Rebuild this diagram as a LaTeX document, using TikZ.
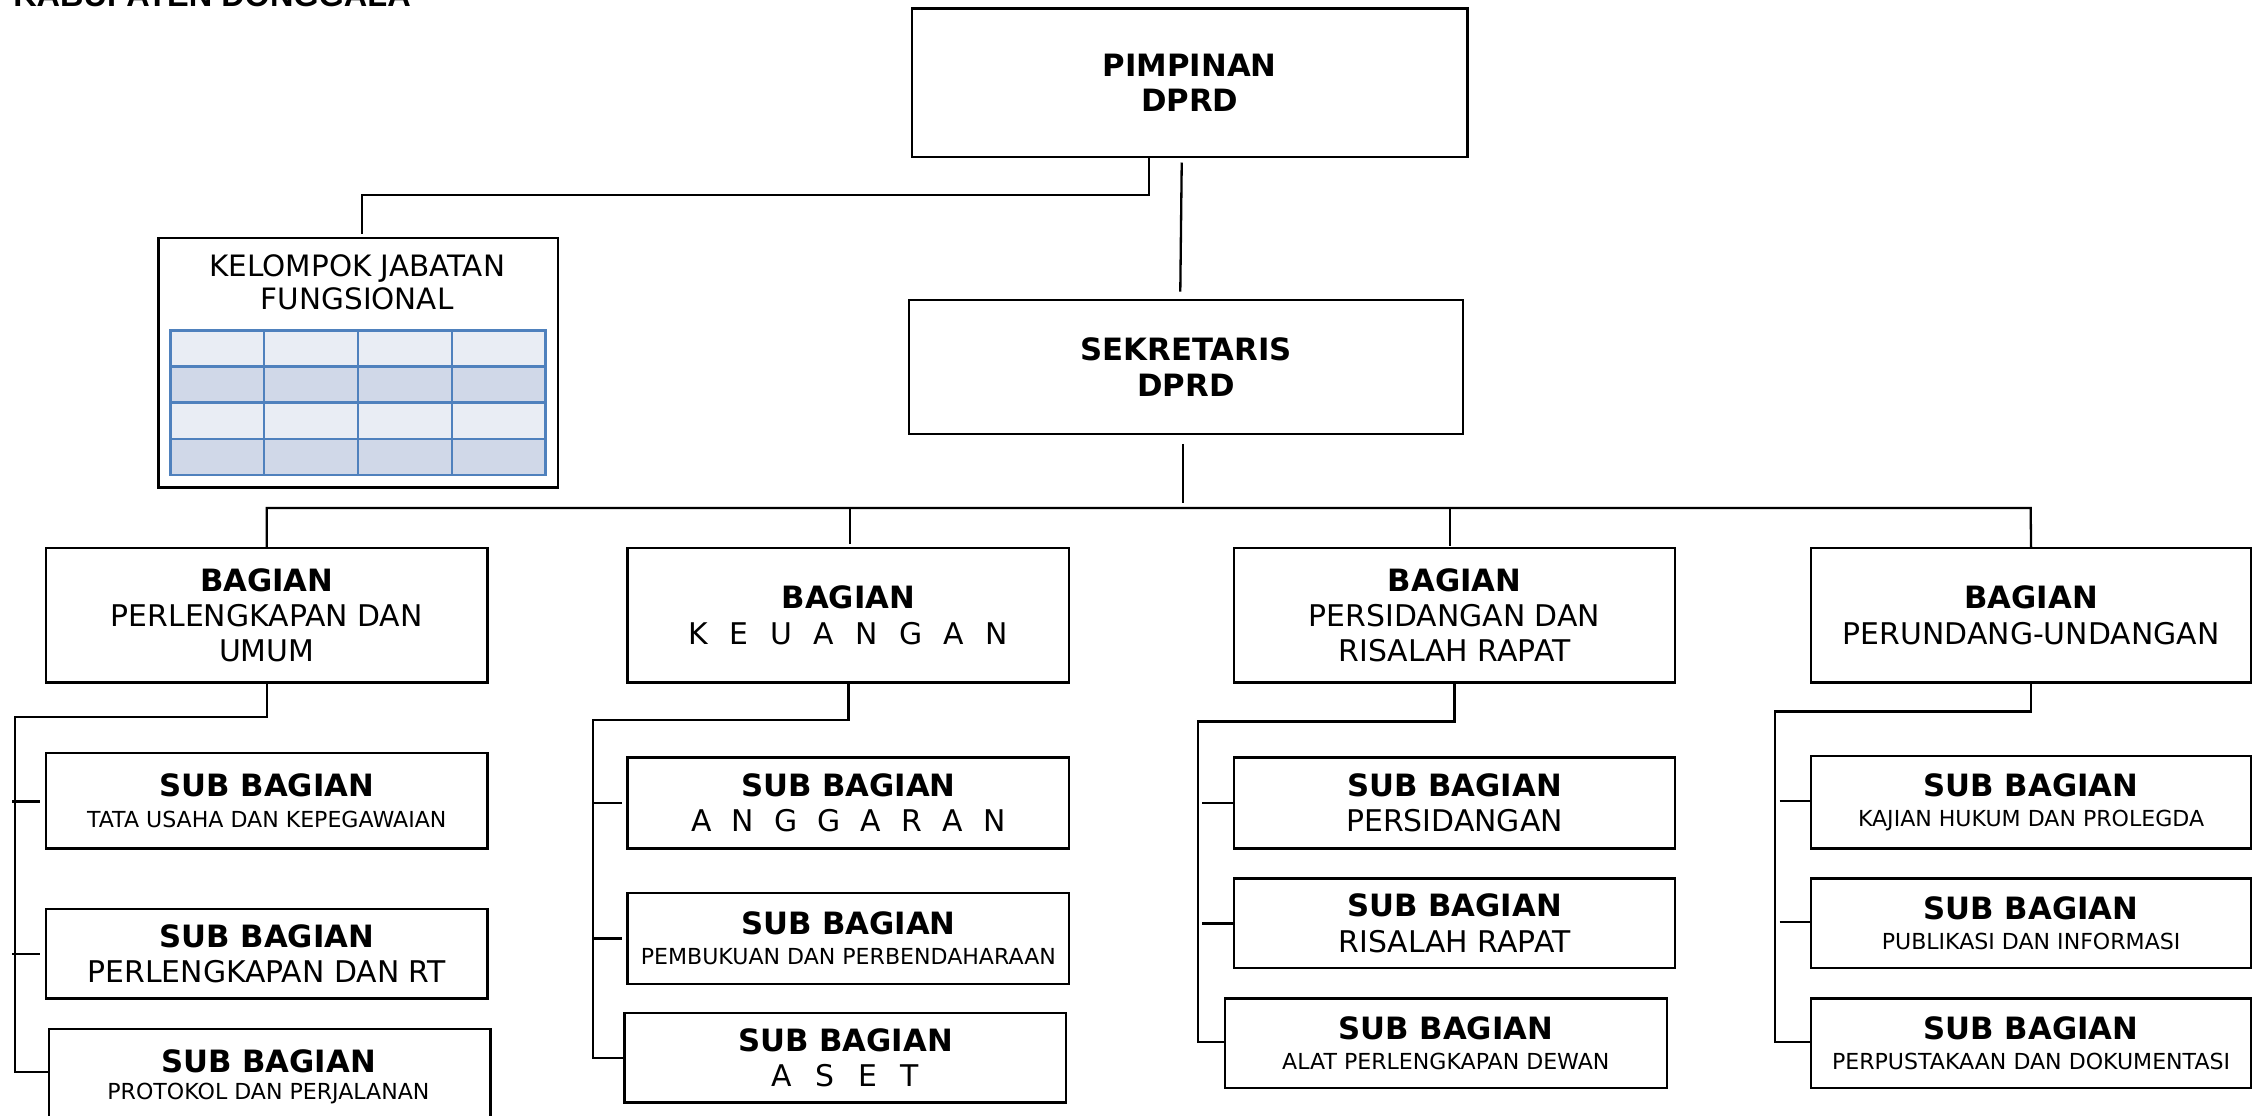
\documentclass[tikz,border=0pt]{standalone}
\usepackage{fontspec}
\setmainfont{DejaVu Sans}
\newfontfamily\titlefont{Liberation Sans}
\usetikzlibrary{calc}
\definecolor{tlight}{HTML}{E9EDF4}
\definecolor{tdark}{HTML}{D0D8E8}
\definecolor{tblue}{HTML}{4F81BD}
\newcommand\bt[1]{{\fontsize{21.3}{24.5}\selectfont\bfseries #1}}
\newcommand\sbh{\bt{SUB BAGIAN}}
\newcommand\smtxt[1]{{\fontsize{15.3}{18}\selectfont #1}}
\begin{document}
\begin{tikzpicture}[x=1pt,y=-1pt,
  box/.style={draw, line width=1.6pt, anchor=north west, inner sep=0pt, align=center,
              font=\fontsize{20.7}{24.5}\selectfont},
  conn/.style={line width=1.6pt},
  tick/.style={line width=1.6pt}]
\useasboundingbox (0,0) rectangle (1568,773);

% title (cut off at top)
\node[anchor=base west, inner sep=0pt, font=\titlefont\bfseries\fontsize{22.5}{26}\selectfont] (title) at (9,4.8) {KABUPATEN DONGGALA};

% top boxes
\node[box, minimum width=385pt, minimum height=103pt] (pim) at (631,5) {\bt{PIMPINAN}\\\bt{DPRD}};
\node[box, minimum width=384pt, minimum height=93pt] (sek) at (629,207) {\bt{SEKRETARIS}\\\bt{DPRD}};

% kelompok jabatan fungsional
\node[box, minimum width=277pt, minimum height=173pt] (kel) at (109,164) {};
\node[anchor=north, inner sep=0pt, align=center, font=\fontsize{20.4}{23}\selectfont] (keltxt) at (247.5,176) {KELOMPOK JABATAN\\FUNGSIONAL};
\foreach \r/\c in {0/tlight,1/tdark,2/tlight,3/tdark}
  \fill[\c] (118,229+25*\r) rectangle (378,254+25*\r);
\foreach \x in {118,183,248,313,378}
  \draw[tblue, line width=1.7pt] (\x,229) -- (\x,329);
\foreach \y in {229,254,279,304,329}
  \draw[tblue, line width=1.7pt] (117.2,\y) -- (378.8,\y);

% bagian boxes
\node[box, minimum width=306pt, minimum height=93pt] (b1) at (31,379) {\bt{BAGIAN}\\PERLENGKAPAN DAN\\UMUM};
\node[box, minimum width=306pt, minimum height=93pt] (b2) at (434,379) {\bt{BAGIAN}\\\makebox[221pt][s]{K\hfill E\hfill U\hfill A\hfill N\hfill G\hfill A\hfill N}};
\node[box, minimum width=306pt, minimum height=93pt] (b3) at (854,379) {\bt{BAGIAN}\\PERSIDANGAN DAN\\RISALAH RAPAT};
\node[box, minimum width=305pt, minimum height=93pt] (b4) at (1254,379) {\bt{BAGIAN}\\PERUNDANG-UNDANGAN};

% sub bagian column 1
\node[box, minimum width=306pt, minimum height=66pt] (s11) at (31,521) {\sbh\\[-3.5pt]\smtxt{TATA USAHA DAN KEPEGAWAIAN}};
\node[box, minimum width=306pt, minimum height=62pt] (s12) at (31,629) {\sbh\\PERLENGKAPAN DAN RT};
\node[box, minimum width=306pt, minimum height=70pt] (s13) at (33,712) {};
\node[anchor=base, inner sep=0pt] (s13a) at (186,743) {\sbh};
\node[anchor=base, inner sep=0pt] (s13b) at (186,762) {\smtxt{PROTOKOL DAN PERJALANAN}};

% sub bagian column 2
\node[box, minimum width=306pt, minimum height=63pt] (s21) at (434,524) {\sbh\\\makebox[218pt][s]{A\hfill N\hfill G\hfill G\hfill A\hfill R\hfill A\hfill N}};
\node[box, minimum width=306pt, minimum height=63pt] (s22) at (434,618) {\sbh\\[-3.5pt]\smtxt{PEMBUKUAN DAN PERBENDAHARAAN}};
\node[box, minimum width=306pt, minimum height=62pt] (s23) at (432,701) {\sbh\\\makebox[102pt][s]{A\hfill S\hfill E\hfill T}};

% sub bagian column 3
\node[box, minimum width=306pt, minimum height=63pt] (s31) at (854,524) {\sbh\\PERSIDANGAN};
\node[box, minimum width=306pt, minimum height=62pt] (s32) at (854,608) {\sbh\\RISALAH RAPAT};
\node[box, minimum width=306pt, minimum height=62pt] (s33) at (848,691) {\sbh\\[-3.5pt]\smtxt{ALAT PERLENGKAPAN DEWAN}};

% sub bagian column 4
\node[box, minimum width=305pt, minimum height=64pt] (s41) at (1254,523) {\sbh\\[-3.5pt]\smtxt{KAJIAN HUKUM DAN PROLEGDA}};
\node[box, minimum width=305pt, minimum height=62pt] (s42) at (1254,608) {\sbh\\[-3.5pt]\smtxt{PUBLIKASI DAN INFORMASI}};
\node[box, minimum width=305pt, minimum height=62pt] (s43) at (1254,691) {\sbh\\[-3.5pt]\smtxt{PERPUSTAKAAN DAN DOKUMENTASI}};

% connectors top
\coordinate (kelj) at (251,135);
\draw[conn] (pim.south -| 796,0) |- (kelj) -- ($(kel.north -| kelj)+(0,-2)$);
\draw[conn] ($(pim.south)+(-5.5,3)$) -- ($(sek.north)+(-4,-5)$);
\coordinate (busL) at (184,352);
\coordinate (busR) at (1407,352);
\draw[conn] ($(sek.south)+(-2,6)$) -- ($(sek.south)+(-2,47)$);
\draw[conn] (b1.north) -- (b1.north |- busL) -- (busR) -- (b4.north);
\draw[conn] ($(b2.north)+(1,-2)$) -- ($(b2.north |- busL)+(1,0)$);
\draw[conn] ($(b3.north)+(-3,-1)$) -- ($(b3.north |- busL)+(-3,0)$);

% column 1 connectors
\coordinate (v1t) at (10.4,497);
\coordinate (v1b) at (10.4,743);
\draw[conn] (b1.south) |- (v1t) -- (v1b) -- (v1b -| s13.west);
\draw[tick] ($(v1t |- s11.west)+(-2,0.5)$) -- ($(s11.west)+(-3,0.5)$);
\draw[tick] ($(v1t |- s12.west)+(-2,0)$) -- ($(s12.west)+(-3,0)$);

% column 2 connectors
\coordinate (v2t) at (411,499);
\coordinate (v2b) at (411,733);
\draw[conn] (b2.south) |- (v2t) -- (v2b) -- (v2b -| s23.west);
\draw[tick] (v2t |- s21.west) -- ($(s21.west)+(-3,0)$);
\draw[tick] (v2t |- s22.west) -- ($(s22.west)+(-3,0)$);

% column 3 connectors
\coordinate (v3t) at (830,500);
\coordinate (v3b) at (830,722);
\draw[conn] (b3.south) |- (v3t) -- (v3b) -- (v3b -| s33.west);
\draw[tick] ($(v3t |- s31.west)+(3,0)$) -- (s31.west);
\draw[tick] ($(v3t |- s32.west)+(3,0)$) -- (s32.west);

% column 4 connectors
\coordinate (v4t) at (1230,493);
\coordinate (v4b) at (1230,722);
\draw[conn] (b4.south) |- (v4t) -- (v4b) -- (v4b -| s43.west);
\draw[tick] ($(v4t |- s41.west)+(3,-1)$) -- ($(s41.west)+(0,-1)$);
\draw[tick] ($(v4t |- s42.west)+(3,-1)$) -- ($(s42.west)+(0,-1)$);
\end{tikzpicture}
\end{document}
